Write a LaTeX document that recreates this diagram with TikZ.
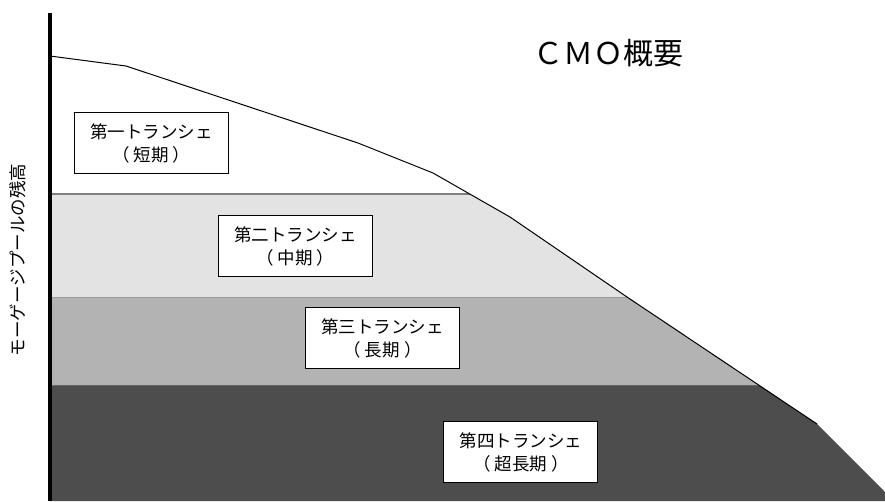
\documentclass[tikz,border=0pt]{standalone}
\usepackage{fontspec}
\newfontfamily\jp{Noto Sans CJK JP}
\definecolor{bandA}{HTML}{E3E3E3}
\definecolor{bandB}{HTML}{B3B3B3}
\definecolor{bandC}{HTML}{4D4D4D}
\definecolor{edgeA}{HTML}{7F7F7F}
\definecolor{edgeB}{HTML}{999999}
\definecolor{edgeC}{HTML}{666666}
\newcommand{\lp}{（\hspace{4pt}}
\newcommand{\rp}{\hspace{4pt}）}
\tikzset{
  tbox/.style={draw=black, line width=1pt, fill=white, minimum width=154pt, minimum height=61pt,
    inner sep=0pt, align=center, font=\jp\fontsize{17.5}{23}\selectfont},
  curveline/.style={draw=black, line width=1pt},
  axisline/.style={draw=black, line width=4pt},
}
\begin{document}
\begin{tikzpicture}[x=1pt,y=-1pt]
\useasboundingbox (0,0) rectangle (885,501);
\fill[white] (0,0) rectangle (885,501);
\coordinate (c0) at (50,56);
\coordinate (c1) at (126,66);
\coordinate (c2) at (358,143);
\coordinate (c3) at (433,173);
\coordinate (c4) at (510,217);
\coordinate (c5) at (627,297);
\coordinate (c6) at (817,424);
\coordinate (c7) at (894,501);
\begin{scope}
  \clip (c0) -- (c1) -- (c2) -- (c3) -- (c4) -- (c5) -- (c6) -- (c7) -- (50,501) -- cycle;
  \fill[bandA] (50,194) rectangle (900,297);
  \fill[bandB] (50,297) rectangle (900,385);
  \fill[bandC] (50,385) rectangle (900,505);
  \draw[edgeA, line width=1.2pt] (50,194) -- (900,194);
  \draw[edgeB, line width=1pt] (50,297) -- (900,297);
  \draw[edgeC, line width=1pt] (50,385) -- (900,385);
\end{scope}
\draw[curveline] (c0) -- (c1) -- (c2) -- (c3) -- (c4) -- (c5) -- (c6);
\coordinate (axtop) at (49.5,13);
\coordinate (axbot) at (49.5,501);
\draw[axisline] (axtop) -- (axbot);
\node[tbox] (t1) at (151.4,143.2) {第一トランシェ\\\lp 短期\rp};
\node[tbox] (t2) at (295.3,246.4) {第二トランシェ\\\lp 中期\rp};
\node[tbox] (t3) at (382.5,338.3) {第三トランシェ\\\lp 長期\rp};
\node[tbox] (t4) at (520.9,452.2) {第四トランシェ\\\lp 超長期\rp};
\node[font=\jp\fontsize{30}{30}\selectfont, inner sep=0pt] (title) at (608,53) {ＣＭＯ概要};
\node[font=\jp\fontsize{17.5}{17.5}\selectfont, rotate=90, inner sep=0pt] (ylab) at (18,260) {モーゲージプールの残高};
\end{tikzpicture}
\end{document}
